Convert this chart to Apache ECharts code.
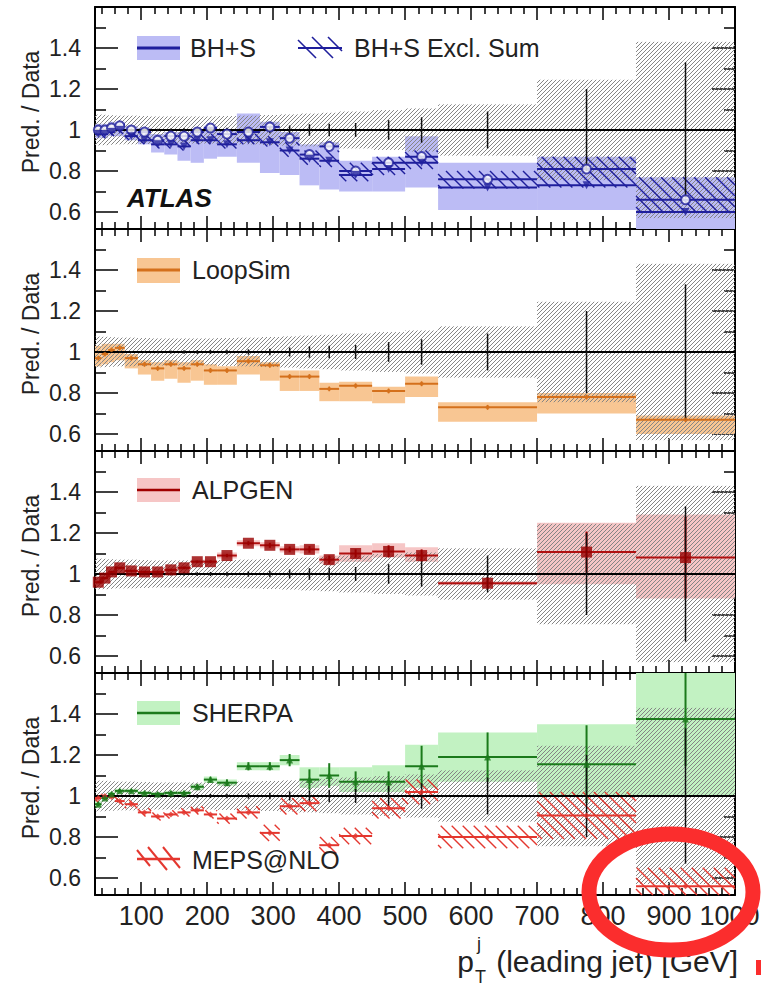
<!DOCTYPE html>
<html><head><meta charset="utf-8">
<script src="https://cdn.jsdelivr.net/npm/echarts@6/dist/echarts.min.js"></script>
<style>html,body{margin:0;padding:0;background:#fff}#c{width:761px;height:990px}</style>
</head><body><div id="c"></div>
<script>
// ---------------- data ----------------
const binEdges = [30,40,50,60,75,95,115,135,155,175,195,215,245,280,310,340,370,400,450,500,550,700,850,1000];
const xTicks = [100,200,300,400,500,600,700,800,900,1000];
const xMinorTicks = [40,60,80,120,140,160,180,220,240,260,280,320,340,360,380,420,440,460,480,520,540,560,580,620,640,660,680,720,740,760,780,820,840,860,880,920,940,960,980];
const yTicks = [0.6,0.8,1,1.2,1.4];
const yMinorTicks = [0.7,0.9,1.1,1.3,1.5];

const dataStat = [0.004,0.004,0.004,0.004,0.004,0.005,0.006,0.007,0.008,0.009,0.010,0.011,0.013,0.016,0.022,0.028,0.030,0.034,0.048,0.062,0.09,0.20,0.33];
const dataSyst = [0.075,0.074,0.072,0.07,0.07,0.068,0.066,0.066,0.066,0.066,0.066,0.068,0.07,0.073,0.076,0.08,0.084,0.09,0.097,0.105,0.125,0.245,0.43];

const bhsValue = [1.00,1.00,1.01,1.02,1.00,0.99,0.95,0.97,0.97,0.99,1.01,0.98,0.99,1.015,0.96,0.88,0.92,0.80,0.84,0.87,0.76,0.81,0.66];
const bhsLow   = [0.96,0.96,0.97,0.97,0.95,0.93,0.89,0.88,0.85,0.84,0.86,0.87,0.84,0.79,0.78,0.73,0.71,0.70,0.70,0.72,0.61,0.61,0.50];
const bhsHigh  = [1.03,1.03,1.04,1.04,1.02,1.01,0.98,0.99,0.99,1.00,1.02,1.00,1.08,1.04,0.99,0.93,0.94,0.85,0.87,0.97,0.84,0.87,0.77];
const exclValue = [0.98,0.98,0.99,1.00,0.97,0.95,0.93,0.93,0.92,0.95,0.95,0.93,0.95,0.94,0.90,0.86,0.85,0.78,0.81,0.84,0.72,0.73,0.60];
const exclLow   = [0.96,0.96,0.97,0.98,0.95,0.93,0.91,0.91,0.90,0.93,0.93,0.91,0.93,0.92,0.87,0.83,0.82,0.75,0.78,0.81,0.715,0.72,0.595];
const exclHigh  = [1.01,1.01,1.02,1.03,1.00,0.98,0.96,0.96,0.95,0.98,0.98,0.96,0.98,0.97,0.94,0.90,0.90,0.84,0.87,0.90,0.80,0.87,0.77];

const loopValue = [0.97,0.99,1.01,1.02,0.97,0.94,0.92,0.94,0.92,0.94,0.91,0.91,0.955,0.935,0.88,0.88,0.82,0.835,0.81,0.845,0.73,0.78,0.67];
const loopLow   = [0.93,0.94,0.95,0.96,0.92,0.89,0.86,0.87,0.85,0.86,0.84,0.84,0.89,0.86,0.81,0.81,0.76,0.76,0.75,0.78,0.66,0.70,0.60];
const loopHigh  = [1.03,1.04,1.04,1.04,0.99,0.96,0.95,0.96,0.95,0.96,0.94,0.93,0.98,0.95,0.91,0.91,0.85,0.855,0.83,0.88,0.755,0.80,0.69];

const alpValue = [0.96,0.98,1.01,1.03,1.015,1.01,1.01,1.02,1.03,1.06,1.06,1.09,1.15,1.14,1.12,1.12,1.07,1.10,1.11,1.09,0.955,1.107,1.08];
const alpLow   = [0.95,0.97,1.00,1.02,1.005,1.00,1.00,1.01,1.02,1.05,1.05,1.075,1.135,1.125,1.105,1.10,1.05,1.06,1.08,1.06,0.945,0.95,0.88];
const alpHigh  = [0.97,0.99,1.02,1.04,1.025,1.02,1.02,1.03,1.04,1.07,1.07,1.105,1.165,1.155,1.135,1.14,1.09,1.14,1.15,1.13,0.965,1.25,1.29];
const alpErr   = [0.005,0.005,0.005,0.005,0.005,0.005,0.005,0.005,0.006,0.006,0.007,0.008,0.01,0.012,0.014,0.016,0.02,0.02,0.03,0.03,0.03,0.10,0.20];

const sherpaValue = [0.96,0.99,1.01,1.025,1.025,1.015,1.01,1.015,1.015,1.045,1.08,1.065,1.145,1.145,1.175,1.08,1.10,1.07,1.07,1.145,1.19,1.155,1.375];
const sherpaLow   = [0.95,0.98,1.00,1.015,1.015,1.005,1.00,1.005,1.005,1.03,1.065,1.05,1.125,1.125,1.15,1.04,1.05,1.02,1.02,1.04,1.07,1.00,1.00];
const sherpaHigh  = [0.975,1.00,1.02,1.035,1.035,1.025,1.02,1.025,1.025,1.06,1.095,1.08,1.165,1.165,1.20,1.14,1.14,1.14,1.15,1.25,1.31,1.35,1.75];
const sherpaErr   = [0.01,0.008,0.008,0.008,0.008,0.008,0.008,0.01,0.01,0.012,0.014,0.016,0.02,0.02,0.03,0.05,0.06,0.05,0.05,0.10,0.12,0.19,0.23];

const mepsValue = [0.99,1.00,0.995,0.975,0.96,0.92,0.90,0.91,0.92,0.93,0.91,0.89,0.92,0.82,0.95,0.965,0.76,0.805,0.94,1.02,0.80,0.905,0.56];
const mepsLow   = [0.97,0.98,0.975,0.955,0.94,0.90,0.88,0.89,0.90,0.91,0.89,0.865,0.89,0.78,0.91,0.925,0.72,0.765,0.89,0.96,0.745,0.79,0.47];
const mepsHigh  = [1.01,1.02,1.015,0.995,0.98,0.94,0.92,0.93,0.94,0.95,0.93,0.915,0.95,0.86,0.99,1.005,0.80,0.845,0.99,1.08,0.855,1.02,0.65];

// ---------------- layout / style ----------------
const FONT = '"Liberation Sans", Arial, Helvetica, sans-serif';
const X_MIN = 30, X_MAX = 1000, Y_MIN = 0.517, Y_MAX = 1.6;
const GRID_TOPS = [7, 229, 451, 673], GRID_H = 222, GRID_L = 95, GRID_W = 640;
const C = {
  blue: '#1f1f9c', blueBand: '#bcbcf5',
  orange: '#d4701c', orangeBand: '#f8c693',
  red: '#990000', pinkBand: '#f6c6c6',
  green: '#1b7a1b', greenBand: '#c2f2c2',
  meps: '#e4372f', gray: '#858585'
};

const centers = binCenters();
function binCenters(){ const c=[]; for(let k=0;k<binEdges.length-1;k++) c.push((binEdges[k]+binEdges[k+1])/2); return c; }
const bandData = (lo, hi) => lo.map((l,k)=>[binEdges[k], binEdges[k+1], l, hi[k]]);
const stepData = (v) => v.map((y,k)=>[binEdges[k], binEdges[k+1], y]);
const errData = (v, e) => v.map((y,k)=>[centers[k], y-e[k], y+e[k]]);
const pts = (v) => v.map((y,k)=>[centers[k], y]);
const cy = v => Math.max(Y_MIN, Math.min(Y_MAX, v));

function rectSeries(g, data, fill, z){
  return {type:'custom', xAxisIndex:4*g, yAxisIndex:4*g, z, silent:true, data,
    renderItem:(p, api)=>{
      const a = api.coord([api.value(0), cy(api.value(3))]);
      const b = api.coord([api.value(1), cy(api.value(2))]);
      return {type:'rect', shape:{x:a[0], y:a[1], width:b[0]-a[0], height:b[1]-a[1]}, style:{fill}};
    }};
}
function hatchSeries(g, data, color, step, dir, lw, z){
  return {type:'custom', xAxisIndex:4*g, yAxisIndex:4*g, z, silent:true, data,
    renderItem:(p, api)=>{
      const a = api.coord([api.value(0), cy(api.value(3))]);
      const b = api.coord([api.value(1), cy(api.value(2))]);
      const X0=a[0], Y0=a[1], X1=b[0], Y1=b[1];
      const ch=[];
      if (Y1 - Y0 < 0.5) return {type:'group', children:ch};
      if (dir === '/') {
        for (let c=Math.ceil((X0+Y0)/step)*step; c<=X1+Y1; c+=step){
          const xa=Math.max(X0,c-Y1), xb=Math.min(X1,c-Y0);
          if (xb>xa) ch.push({type:'line', shape:{x1:xa,y1:c-xa,x2:xb,y2:c-xb}, style:{stroke:color,lineWidth:lw}});
        }
      } else {
        for (let c=Math.ceil((X0-Y1)/step)*step; c<=X1-Y0; c+=step){
          const xa=Math.max(X0,c+Y0), xb=Math.min(X1,c+Y1);
          if (xb>xa) ch.push({type:'line', shape:{x1:xa,y1:xa-c,x2:xb,y2:xb-c}, style:{stroke:color,lineWidth:lw}});
        }
      }
      return {type:'group', children:ch};
    }};
}
function hlineSeries(g, data, color, lw, z){
  return {type:'custom', xAxisIndex:4*g, yAxisIndex:4*g, z, silent:true, data,
    renderItem:(p, api)=>{
      const y = api.value(2); if (y < Y_MIN || y > Y_MAX) return null;
      const a = api.coord([api.value(0), y]), b = api.coord([api.value(1), y]);
      return {type:'line', shape:{x1:a[0],y1:a[1],x2:b[0],y2:b[1]}, style:{stroke:color,lineWidth:lw}};
    }};
}
function vbarSeries(g, data, color, lw, z){
  return {type:'custom', xAxisIndex:4*g, yAxisIndex:4*g, z, silent:true, data,
    renderItem:(p, api)=>{
      const a = api.coord([api.value(0), cy(api.value(2))]), b = api.coord([api.value(0), cy(api.value(1))]);
      return {type:'line', shape:{x1:a[0],y1:a[1],x2:b[0],y2:b[1]}, style:{stroke:color,lineWidth:lw}};
    }};
}
function markerSeries(g, data, symbol, size, itemStyle, z){
  return {type:'scatter', xAxisIndex:4*g, yAxisIndex:4*g, z, silent:true, data, symbol, symbolSize:size, itemStyle, clip:true};
}

// axes
const grids = GRID_TOPS.map(t=>({left:GRID_L, top:t, width:GRID_W, height:GRID_H, containLabel:false, outerBoundsMode:'none'}));
const xAxes = [], yAxes = [];
GRID_TOPS.forEach((t,g)=>{
  const common = {type:'value', gridIndex:g, min:X_MIN, max:X_MAX, splitLine:{show:false}};
  const mk = (pos, ticks, len, axisLine, label) => Object.assign({}, common, {
    position:pos,
    axisLine:{show:axisLine, onZero:false, lineStyle:{color:'#000', width:2}},
    axisTick:{show:true, inside:true, length:len, customValues:ticks, lineStyle:{color:'#000', width:1.5}},
    axisLabel: label ? {show:true, customValues:xTicks, fontSize:27, fontFamily:FONT, color:'#222', margin:7,
      formatter:v=> v === X_MAX ? '{e|' + v + '}' : String(v),
      rich:{e:{fontSize:27, fontFamily:FONT, color:'#222', padding:[0,11,0,0]}}} : {show:false}
  });
  xAxes.push(mk('bottom', xTicks, 13, true, g===3));
  xAxes.push(mk('bottom', xMinorTicks, 7, false, false));
  xAxes.push(mk('top', xTicks, 13, true, false));
  xAxes.push(mk('top', xMinorTicks, 7, false, false));
  const ycommon = {type:'value', gridIndex:g, min:Y_MIN, max:Y_MAX, splitLine:{show:false}};
  const mky = (pos, ticks, len, axisLine, label) => Object.assign({}, ycommon, {
    position:pos,
    axisLine:{show:axisLine, onZero:false, lineStyle:{color:'#000', width:2}},
    axisTick:{show:true, inside:true, length:len, customValues:ticks, lineStyle:{color:'#000', width:1.5}},
    axisLabel: label ? {show:true, customValues:yTicks, fontSize:23, fontFamily:FONT, color:'#222', margin:14,
      formatter:v=>String(Math.round(v*10)/10)} : {show:false}
  });
  yAxes.push(mky('left', yTicks, 23, true, true));
  yAxes.push(mky('left', yMinorTicks, 11, false, false));
  yAxes.push(mky('right', yTicks, 23, true, false));
  yAxes.push(mky('right', yMinorTicks, 11, false, false));
});

// series
const series = [];
const grayBand = bandData(dataSyst.map(s=>1-s), dataSyst.map(s=>1+s));
const unityLine = [[X_MIN, X_MAX, 1]];
const dataErr = errData(binEdges.slice(0,-1).map(()=>1), dataStat);
function commonData(g){
  series.push(hatchSeries(g, grayBand, C.gray, 4, '/', 1, 5));
  series.push(hlineSeries(g, unityLine, '#000', 2, 9));
  series.push(vbarSeries(g, dataErr, '#111', 1.5, 9));
}
// panel 1: BH+S
series.push(rectSeries(0, bandData(bhsLow, bhsHigh), C.blueBand, 2));
commonData(0);
series.push(hatchSeries(0, bandData(exclLow, exclHigh), C.blue, 11, '\\', 1.4, 6));
series.push(hlineSeries(0, stepData(bhsValue), C.blue, 2, 7));
series.push(hlineSeries(0, stepData(exclValue), C.blue, 2, 7));
series.push(markerSeries(0, pts(bhsValue), 'circle', 9, {color:'#fff', borderColor:C.blue, borderWidth:2}, 10));
const exclMarkers = markerSeries(0, pts(exclValue), 'triangle', 8, {color:C.blue}, 10);
exclMarkers.symbolRotate = 180;
series.push(exclMarkers);
// panel 2: LoopSim
series.push(rectSeries(1, bandData(loopLow, loopHigh), C.orangeBand, 2));
commonData(1);
series.push(hlineSeries(1, stepData(loopValue), C.orange, 2, 7));
series.push(vbarSeries(1, errData(loopValue, loopValue.map(()=>0.012)), C.orange, 1.5, 7));
series.push(markerSeries(1, pts(loopValue), 'circle', 4, {color:C.orange}, 10));
// panel 3: ALPGEN
series.push(rectSeries(2, bandData(alpLow, alpHigh), C.pinkBand, 2));
commonData(2);
series.push(hlineSeries(2, stepData(alpValue), '#b01010', 2, 7));
series.push(vbarSeries(2, errData(alpValue, alpErr), '#a00000', 2, 7));
series.push(markerSeries(2, pts(alpValue), 'rect', 11, {color:C.red}, 10));
// panel 4: SHERPA + MEPS@NLO
series.push(rectSeries(3, bandData(sherpaLow, sherpaHigh), C.greenBand, 2));
commonData(3);
series.push(hatchSeries(3, bandData(mepsLow, mepsHigh), C.meps, 11, '\\', 1.4, 6));
series.push(hlineSeries(3, stepData(mepsValue), C.meps, 2, 7));
series.push(hlineSeries(3, stepData(sherpaValue), C.green, 2, 7));
series.push(vbarSeries(3, errData(sherpaValue, sherpaErr), C.green, 2, 7));
series.push(markerSeries(3, pts(mepsValue), 'diamond', 6, {color:C.meps}, 10));
series.push(markerSeries(3, pts(sherpaValue), 'triangle', 7, {color:C.green}, 10));

// ---------------- graphics (legends, labels, annotation) ----------------
const T = (text, x, y, extra) => ({type:'text', x, y, z:50, silent:true,
  style:Object.assign({text, fontSize:25, fontFamily:FONT, fill:'#222', align:'left', verticalAlign:'middle'}, extra||{})});
const G = [];
// legends
G.push({type:'rect', shape:{x:137,y:36,width:43,height:24}, style:{fill:C.blueBand}, z:50});
G.push({type:'line', shape:{x1:137,y1:48,x2:180,y2:48}, style:{stroke:C.blue,lineWidth:3}, z:51});
G.push(T('BH+S', 190, 48));
G.push({type:'line', shape:{x1:298,y1:48,x2:342,y2:48}, style:{stroke:C.blue,lineWidth:2}, z:51});
[[298,40,316,58],[312,37,333,58],[328,37,342,51]].forEach(s=>G.push({type:'line', shape:{x1:s[0],y1:s[1],x2:s[2],y2:s[3]}, style:{stroke:C.blue,lineWidth:1.6}, z:51}));
G.push(T('BH+S Excl. Sum', 354, 48));
G.push({type:'rect', shape:{x:137,y:258,width:43,height:25}, style:{fill:C.orangeBand}, z:50});
G.push({type:'line', shape:{x1:137,y1:270,x2:180,y2:270}, style:{stroke:C.orange,lineWidth:3}, z:51});
G.push(T('LoopSim', 192, 270));
G.push({type:'rect', shape:{x:137,y:478,width:43,height:24}, style:{fill:C.pinkBand}, z:50});
G.push({type:'line', shape:{x1:137,y1:490,x2:180,y2:490}, style:{stroke:'#a00000',lineWidth:2.5}, z:51});
G.push(T('ALPGEN', 192, 490));
G.push({type:'rect', shape:{x:137,y:701,width:43,height:24}, style:{fill:C.greenBand}, z:50});
G.push({type:'line', shape:{x1:137,y1:713,x2:180,y2:713}, style:{stroke:C.green,lineWidth:2.5}, z:51});
G.push(T('SHERPA', 192, 713));
G.push({type:'line', shape:{x1:137,y1:859,x2:180,y2:859}, style:{stroke:C.meps,lineWidth:2.5}, z:51});
[[137,850,150,866],[148,847,167,870],[163,847,180,868]].forEach(s=>G.push({type:'line', shape:{x1:s[0],y1:s[1],x2:s[2],y2:s[3]}, style:{stroke:C.meps,lineWidth:2}, z:51}));
G.push(T('MEPS@NLO', 192, 860));
G.push(T('ATLAS', 127, 198, {fontWeight:'bold', fontStyle:'italic', fontSize:26, fill:'#111'}));
// y titles
GRID_TOPS.forEach(t=>G.push({type:'text', x:31, y:t+105, rotation:Math.PI/2, z:50, silent:true,
  style:{text:'Pred. / Data', fontSize:23, fontFamily:FONT, fill:'#222', align:'center', verticalAlign:'middle'}}));
// x title
(function(){
  const ctx = document.createElement('canvas').getContext('2d');
  ctx.font = '30px "Liberation Sans"';
  const w = ctx.measureText(' (leading jet) [GeV]').width;
  const right = 738, ymid = 961;
  const pRight = right - w - 14;
  G.push(T(' (leading jet) [GeV]', right, ymid, {align:'right', fontSize:30}));
  G.push(T('p', pRight, ymid, {align:'right', fontSize:30}));
  G.push(T('T', pRight + 1, ymid + 16, {fontSize:18}));
  G.push(T('j', pRight + 3, ymid - 17, {fontSize:18}));
})();
// red annotation ellipse
G.push({type:'ellipse', shape:{cx:671, cy:892, rx:82, ry:58}, style:{fill:'none', stroke:'#fb2d2d', lineWidth:15}, z:100, silent:true});
G.push({type:'rect', shape:{x:756, y:960, width:5, height:15}, style:{fill:'#fb2d2d'}, z:100, silent:true});

const chart = echarts.init(document.getElementById('c'), null, {renderer:'svg', width:761, height:990});
chart.setOption({
  animation:false,
  backgroundColor:'#fff',
  grid:grids, xAxis:xAxes, yAxis:yAxes, series,
  graphic:{elements:G}
});
</script></body></html>
